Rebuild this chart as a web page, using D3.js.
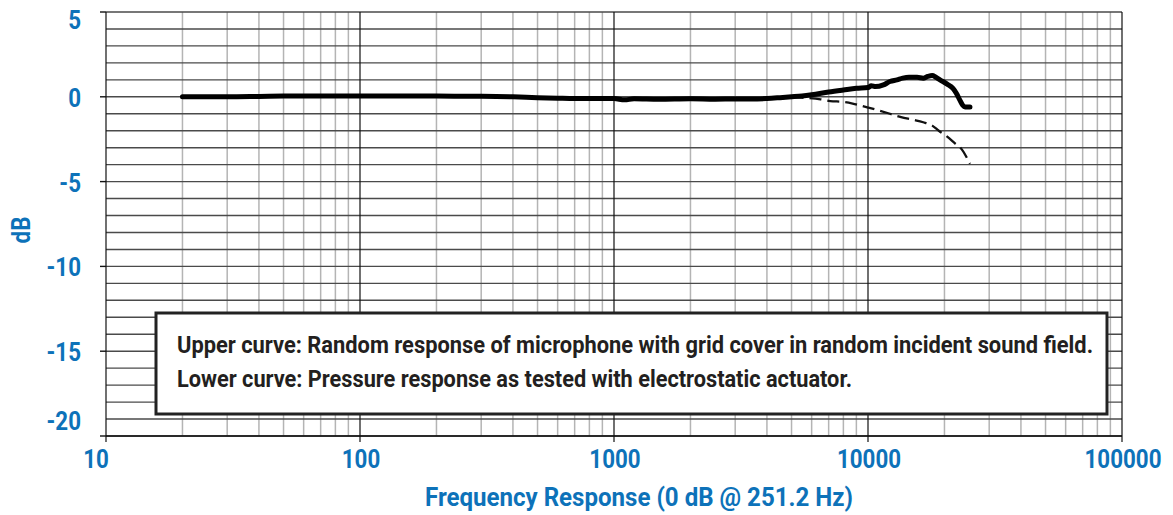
<!DOCTYPE html>
<html>
<head>
<meta charset="utf-8">
<script src="https://cdn.jsdelivr.net/npm/d3@7"></script>
<style>
  body { margin: 0; background: #fff; }
  text { font-family: Roboto, "Liberation Sans", sans-serif; font-weight: bold; }
</style>
</head>
<body>
<svg id="chart" width="1173" height="515"></svg>
<script>
  'use strict';

  // tick labels
  var freqTicks = [10, 100, 1000, 10000, 100000];
  var dbTicks = [5, 0, -5, -10, -15, -20];

  // upper curve: random response with grid cover
  var upperFreq = [20, 30, 40, 50, 70, 100, 150, 200, 300, 400, 500, 600, 700, 800, 1000, 1100, 1200, 1500,
    2000, 2500, 3000, 3500, 4000, 4500, 5000, 5500, 6000, 7000, 8000, 9000, 10000, 10300, 10700, 11500,
    12200, 13000, 13700, 14500, 15600, 16500, 17200, 17900, 18500, 19200, 20500, 21600, 22300, 23000,
    23600, 24100, 25200];
  var upperDb = [0, 0, 0.02, 0.04, 0.05, 0.05, 0.05, 0.04, 0.03, 0, -0.05, -0.08, -0.1, -0.1, -0.1, -0.18,
    -0.12, -0.15, -0.12, -0.14, -0.13, -0.13, -0.1, -0.05, 0, 0.05, 0.12, 0.28, 0.4, 0.5, 0.55, 0.65, 0.6,
    0.7, 0.9, 1.0, 1.1, 1.15, 1.15, 1.1, 1.2, 1.25, 1.15, 1.0, 0.75, 0.5, 0.2, -0.2, -0.5, -0.6, -0.6];

  // lower curve: pressure response (electrostatic actuator)
  var lowerFreq = [5000, 5500, 6500, 7100, 8000, 8700, 9500, 10700, 12200, 13500, 15000, 16500, 17900,
    19000, 20500, 22000, 23400, 25200];
  var lowerDb = [0, -0.05, -0.15, -0.25, -0.3, -0.4, -0.55, -0.75, -1.0, -1.2, -1.35, -1.5, -1.7, -2.0,
    -2.35, -2.75, -3.1, -3.95];

  var legendLines = [
    "Upper curve: Random response of microphone with grid cover in random incident sound field.",
    "Lower curve: Pressure response as tested with electrostatic actuator."
  ];
  var xTitle = "Frequency Response (0 dB @ 251.2 Hz)";
  var yTitle = "dB";

  var blue = "#0d72b9";
  var svg = d3.select("#chart");

  var x = d3.scaleLog().domain([10, 100000]).range([106, 1122]);
  var y = d3.scaleLinear().domain([5, -20]).range([12, 436]);

  var g = svg.append("g");

  // vertical grid (minor then decades)
  var vTicks = x.ticks();
  g.selectAll(".vminor")
    .data(vTicks.filter(function(d) { return freqTicks.indexOf(d) < 0; }))
    .enter().append("line")
    .attr("x1", function(d) { return x(d); })
    .attr("x2", function(d) { return x(d); })
    .attr("y1", y(5)).attr("y2", y(-20))
    .attr("stroke", "#b4b4b4").attr("stroke-width", 1.5);

  // horizontal grid every 1 dB
  g.selectAll(".hgrid")
    .data(y.ticks(25))
    .enter().append("line")
    .attr("x1", x(10)).attr("x2", x(100000))
    .attr("y1", function(d) { return y(d); })
    .attr("y2", function(d) { return y(d); })
    .attr("stroke", "#4a4a4a").attr("stroke-width", 1.4);

  g.selectAll(".vmajor")
    .data(freqTicks)
    .enter().append("line")
    .attr("x1", function(d) { return x(d); })
    .attr("x2", function(d) { return x(d); })
    .attr("y1", y(5)).attr("y2", y(-20) + 6)
    .attr("stroke", "#111").attr("stroke-width", 1.2);

  // bottom axis line + left tick marks
  g.append("line")
    .attr("x1", x(10)).attr("x2", x(100000))
    .attr("y1", y(-20)).attr("y2", y(-20))
    .attr("stroke", "#111").attr("stroke-width", 1.6);

  g.selectAll(".ytick")
    .data(dbTicks)
    .enter().append("line")
    .attr("x1", x(10) - 6).attr("x2", x(10))
    .attr("y1", function(d) { return y(d); })
    .attr("y2", function(d) { return y(d); })
    .attr("stroke", "#111").attr("stroke-width", 1.4);

  // y tick labels (condensed look via horizontal scale)
  var yLabTop = y(5) + 17, yLabBot = y(-20) - 6;
  g.selectAll(".ylab")
    .data(dbTicks)
    .enter().append("text")
    .attr("transform", function(d) {
      var ly = Math.max(yLabTop, Math.min(yLabBot, y(d) + 10));
      return "translate(" + (x(10) - 25) + "," + ly + ") scale(0.86,1)";
    })
    .attr("text-anchor", "end")
    .attr("fill", blue)
    .style("font-size", "26px")
    .text(function(d) { return d; });

  // x tick labels
  g.selectAll(".xlab")
    .data(freqTicks)
    .enter().append("text")
    .attr("transform", function(d, i) {
      var lx = x(d) + (i === 0 ? -10 : 1);
      return "translate(" + lx + "," + (y(-20) + 32) + ") scale(0.86,1)";
    })
    .attr("text-anchor", "middle")
    .attr("fill", blue)
    .style("font-size", "26px")
    .text(function(d) { return d; });

  // axis titles
  svg.append("text")
    .attr("x", 425).attr("y", 506)
    .attr("textLength", 428).attr("lengthAdjust", "spacingAndGlyphs")
    .attr("fill", blue)
    .style("font-size", "26px")
    .text(xTitle);

  svg.append("text")
    .attr("transform", "translate(30,230) rotate(-90) scale(0.86,1)")
    .attr("text-anchor", "middle")
    .attr("fill", blue)
    .style("font-size", "26px")
    .text(yTitle);

  // curves
  var line = d3.line()
    .x(function(d) { return x(d[0]); })
    .y(function(d) { return y(d[1]); })
    .curve(d3.curveMonotoneX);

  g.append("path")
    .datum(d3.zip(lowerFreq, lowerDb))
    .attr("d", line)
    .attr("fill", "none")
    .attr("stroke", "#111")
    .attr("stroke-width", 2.3)
    .attr("stroke-dasharray", "12,6");

  g.append("path")
    .datum(d3.zip(upperFreq, upperDb))
    .attr("d", line)
    .attr("fill", "none")
    .attr("stroke", "#000")
    .attr("stroke-width", 5)
    .attr("stroke-linecap", "round")
    .attr("stroke-linejoin", "round");

  // legend box
  var lg = svg.append("g");
  lg.append("rect")
    .attr("x", 156).attr("y", 313)
    .attr("width", 951).attr("height", 101)
    .attr("fill", "#fff")
    .attr("stroke", "#222")
    .attr("stroke-width", 3);

  var legendWidths = [916, 675];
  lg.selectAll(".leg")
    .data(legendLines)
    .enter().append("text")
    .attr("x", 177)
    .attr("y", function(d, i) { return 353 + i * 34; })
    .attr("textLength", function(d, i) { return legendWidths[i]; })
    .attr("lengthAdjust", "spacingAndGlyphs")
    .attr("fill", "#231f20")
    .style("font-size", "23px")
    .text(function(d) { return d; });
</script>
</body>
</html>
